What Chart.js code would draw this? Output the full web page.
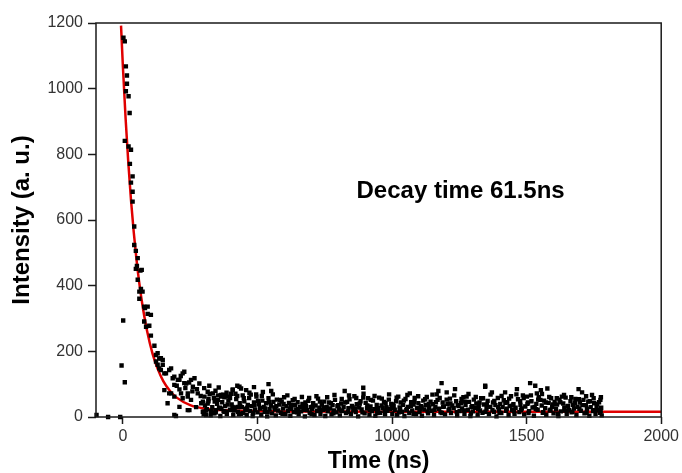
<!DOCTYPE html>
<html>
<head>
<meta charset="utf-8">
<script src="https://cdn.jsdelivr.net/npm/chart.js@4/dist/chart.umd.min.js"></script>
<style>
  html, body { margin: 0; padding: 0; background: #fff; }
</style>
</head>
<body>
<canvas id="decay" width="682" height="473"></canvas>
<script>
// Time-resolved PL decay, counts vs time (ns)
const xTicks = [0, 500, 1000, 1500, 2000];
const yTicks = [0, 200, 400, 600, 800, 1000, 1200];

// points before the pulse / stray low counts
const earlyPoints = [[-98, 6], [-55, 0], [-10, 0], [1, 294], [-5, 157], [7, 106]];

// the fast decay
const decayPoints = [
  [2, 1155], [7, 1144], [11, 1068], [15, 1040], [15, 1015], [11, 992], [21, 977], [25, 926], [7, 841], [21, 824],
  [30, 814], [26, 771], [36, 733], [30, 714], [36, 686], [36, 656], [42, 580], [42, 524], [48, 506], [55, 484],
  [52, 460], [48, 451], [65, 446], [70, 448], [55, 418], [67, 390], [61, 382], [73, 382], [61, 360], [92, 336],
  [79, 336], [82, 332], [92, 314], [104, 311], [79, 291], [98, 278], [86, 275], [104, 248], [117, 217], [129, 194],
  [123, 189], [141, 179], [135, 178], [148, 174], [123, 169], [129, 159], [148, 159], [135, 148], [141, 143], [172, 143],
  [179, 148], [154, 133], [160, 133], [228, 138], [185, 118], [191, 123], [210, 113], [204, 113], [253, 113], [235, 102],
  [228, 103], [222, 133], [191, 98], [284, 102], [321, 95], [154, 82], [210, 84], [179, 72], [172, 72], [216, 72],
  [241, 72], [278, 72], [260, 92], [222, 57], [253, 52], [191, 62], [241, 62], [297, 47], [291, 42], [166, 42],
  [210, 31], [241, 21], [247, 21], [272, 30], [297, 16], [303, 16], [309, 6], [328, 16], [340, 11], [346, 21],
  [353, 52], [365, 62], [365, 67], [334, 72], [390, 62], [408, 84], [433, 92], [377, 16], [402, 21], [427, 31],
  [197, 3], [191, 6],
  [200, 95], [215, 125], [232, 88], [246, 105], [258, 78], [266, 118], [275, 85], [289, 64], [302, 88], [315, 77],
  [318, 55], [344, 80], [356, 90], [372, 68], [385, 74], [398, 58], [418, 71], [445, 66], [470, 74], [495, 69],
  [520, 76]
];

// flat background after the decay
const tailPoints = [
  [300, 8], [305, 35], [312, 24], [318, 48], [326, 5], [332, 30], [338, 58], [345, 14], [350, 40], [357, 27],
  [362, 3], [369, 45], [374, 18], [380, 33], [386, 9], [392, 50], [398, 22], [404, 38], [410, 6], [416, 29],
  [421, 55], [428, 16], [434, 42], [438, 10],
  [442, 30], [447, 12], [451, 48], [455, 25], [460, 6], [464, 37], [469, 58], [473, 18], [478, 33], [482, 3],
  [487, 44], [491, 22], [496, 62], [500, 14], [505, 39], [509, 27], [514, 7], [518, 50], [523, 31], [527, 16],
  [532, 42], [536, 2], [541, 57], [545, 24], [550, 35], [554, 11], [559, 46], [563, 29], [568, 5], [572, 53],
  [577, 20], [581, 38], [586, 13], [590, 47], [595, 26], [599, 60], [604, 9], [608, 33], [613, 19], [617, 43],
  [622, 4], [626, 28], [631, 51], [635, 15], [640, 36], [644, 23], [649, 45], [653, 8], [658, 31], [662, 17],
  [667, 40], [671, 27], [676, 2], [680, 34], [685, 21], [689, 49], [694, 12], [698, 30],
  [703, 24], [707, 42], [712, 6], [716, 35], [721, 19], [725, 56], [730, 28], [734, 10], [739, 38], [743, 22],
  [748, 47], [752, 3], [757, 31], [761, 17], [766, 44], [770, 26], [775, 8], [779, 36], [784, 20], [788, 52],
  [793, 14], [797, 33], [802, 25], [806, 5], [811, 41], [815, 18], [820, 30], [829, 12], [833, 46], [838, 27],
  [842, 54], [847, 9], [851, 34], [856, 21], [860, 63], [865, 15], [869, 39], [874, 2], [878, 29], [883, 48],
  [887, 23], [898, 11], [902, 43], [907, 26], [911, 57], [916, 7], [920, 32], [925, 18], [929, 50], [934, 24],
  [938, 4], [943, 37], [947, 21], [952, 59], [956, 13], [961, 35], [965, 28], [970, 46], [974, 8], [979, 30],
  [983, 19], [988, 53], [992, 25], [997, 40],
  [1001, 10], [1006, 34], [1010, 22], [1015, 48], [1019, 6], [1028, 29], [1032, 44], [1037, 16], [1041, 37], [1046, 3],
  [1050, 55], [1055, 24], [1059, 31], [1064, 12], [1071, 45], [1075, 20], [1080, 38], [1084, 58], [1089, 9], [1093, 27],
  [1098, 42], [1102, 15], [1107, 33], [1111, 4], [1116, 50], [1120, 23], [1125, 36], [1129, 61], [1134, 11], [1138, 28],
  [1143, 47], [1147, 19], [1152, 39], [1156, 6], [1161, 30], [1169, 52], [1175, 25], [1180, 14], [1188, 44], [1193, 32],
  [1197, 8], [1206, 40], [1210, 21], [1215, 56], [1219, 12], [1224, 35], [1229, 27], [1238, 48], [1242, 5], [1247, 33],
  [1251, 18], [1256, 42], [1260, 26], [1265, 60], [1269, 10], [1273, 37], [1282, 22], [1286, 46], [1291, 3], [1295, 31],
  [1300, 17], [1304, 53], [1309, 28], [1313, 41], [1318, 7], [1322, 34], [1327, 20], [1331, 57], [1336, 13], [1341, 38],
  [1351, 25], [1355, 49], [1360, 9], [1365, 31], [1375, 44], [1379, 16], [1384, 36], [1388, 2], [1393, 58], [1397, 23],
  [1402, 40], [1406, 12], [1411, 30], [1415, 51], [1424, 19], [1428, 45], [1433, 6], [1437, 33], [1442, 63], [1446, 21],
  [1451, 39], [1455, 10], [1459, 28], [1468, 54], [1473, 15], [1477, 37], [1482, 26], [1486, 66], [1491, 8], [1495, 32],
  [1505, 44], [1509, 18], [1518, 48], [1522, 29], [1527, 4], [1536, 40], [1541, 22], [1545, 60], [1556, 35], [1560, 13],
  [1565, 50], [1569, 27], [1573, 7], [1582, 43], [1586, 20], [1591, 57], [1595, 31], [1600, 11], [1604, 46], [1609, 24],
  [1613, 38], [1618, 3], [1622, 53], [1627, 17], [1636, 41], [1640, 28], [1645, 59], [1649, 9], [1654, 34], [1658, 21],
  [1663, 48], [1667, 14], [1672, 37], [1676, 26], [1681, 55], [1685, 6], [1689, 31], [1698, 44], [1702, 19], [1711, 52],
  [1715, 11], [1720, 36], [1724, 25], [1729, 47], [1733, 4], [1738, 30], [1747, 18], [1751, 42], [1756, 9], [1760, 33],
  [1765, 22], [1769, 45], [1773, 13], [1777, 28], [1779, 5]
];

// upper half of the background band
const tailUpper = [
  [303, 62], [315, 41], [322, 70], [329, 18], [341, 47], [353, 66], [366, 25], [377, 60], [389, 38], [401, 71],
  [413, 20], [425, 64], [436, 33], [449, 57], [462, 28], [475, 68], [489, 35], [502, 49], [516, 64], [529, 26],
  [543, 45], [557, 69], [570, 33], [584, 52], [597, 40], [611, 66], [624, 37], [638, 55], [651, 24], [665, 61],
  [678, 44], [692, 58], [705, 32], [719, 63], [732, 47], [746, 29], [759, 60], [773, 42], [786, 67], [800, 36],
  [813, 55], [826, 44], [840, 66], [853, 30], [867, 58], [880, 41], [894, 71], [908, 35], [921, 52], [935, 64],
  [948, 27], [962, 56], [976, 43], [989, 69], [1003, 38], [1017, 59], [1030, 24], [1044, 50], [1057, 67], [1070, 34],
  [1083, 46], [1097, 63], [1110, 29], [1123, 54], [1136, 40], [1150, 68], [1163, 45], [1177, 58], [1190, 31], [1203, 53],
  [1217, 41], [1231, 66], [1244, 36], [1258, 55], [1271, 47], [1284, 70], [1298, 33], [1311, 61], [1325, 44], [1338, 57],
  [1352, 37], [1366, 68], [1380, 49], [1394, 30], [1407, 64], [1421, 43], [1435, 56], [1448, 35], [1462, 69], [1476, 48],
  [1489, 58], [1503, 40], [1516, 66], [1530, 31], [1543, 53], [1557, 70], [1571, 44], [1584, 61], [1598, 38], [1612, 57],
  [1625, 45], [1639, 67], [1652, 33], [1666, 60], [1680, 42], [1694, 54], [1707, 36], [1721, 63], [1735, 48], [1749, 57],
  [1762, 39], [1776, 60]
];

// lower half of the background band
const tailLower = [
  [310, 20], [336, 12], [361, 28], [384, 16], [407, 31], [431, 8], [457, 21], [484, 12], [511, 26], [538, 15],
  [565, 23], [593, 10], [620, 25], [647, 14], [674, 22], [701, 9], [728, 18], [755, 24], [782, 11], [809, 20],
  [836, 16], [863, 26], [890, 14], [917, 22], [945, 12], [972, 19], [999, 27], [1026, 14], [1053, 21], [1080, 10],
  [1105, 24], [1132, 17], [1158, 22], [1185, 12], [1213, 26], [1240, 15], [1267, 20], [1293, 11], [1320, 24], [1347, 16],
  [1373, 21], [1399, 13], [1426, 25], [1453, 17], [1479, 22], [1507, 12], [1534, 24], [1562, 15], [1589, 22], [1616, 10],
  [1643, 20], [1670, 16], [1696, 25], [1723, 13], [1750, 21], [1775, 17]
];

// the few higher counts sticking out of the background
const spikePoints = [
  [425, 95], [458, 82], [487, 91], [541, 100], [551, 79], [824, 79], [439, 87], [408, 82], [893, 89], [1184, 103],
  [1172, 79], [1203, 75], [1234, 85], [1166, 69], [1066, 72], [1277, 62], [1346, 92], [1023, 62], [893, 59], [1513, 103],
  [1532, 95], [1346, 95], [1464, 85], [1420, 75], [1371, 75], [1577, 87], [1553, 82], [1538, 72], [1501, 62], [1693, 85],
  [1706, 75], [1631, 62], [1551, 52], [1743, 67], [1774, 52]
];

// red fit curve
const fitTime = [-7, 0, 10, 20, 30, 40, 50, 60, 75, 90, 110, 130, 150, 175, 200, 250, 300, 400, 600, 1000, 2000];
const fitIntensity = [1192, 1066, 909, 775, 661, 565, 483, 413, 328, 261, 193, 145, 109, 79, 59, 36, 26, 20, 17, 16, 16];

const noteText = 'Decay time 61.5ns';
const noteAt = [868, 688];

const FONT = '"Liberation Sans", Arial, sans-serif';

const toXY = ([x, y]) => ({ x, y });
const measured = [...earlyPoints, ...decayPoints, ...tailPoints, ...tailUpper, ...tailLower, ...spikePoints].map(toXY);
const fit = fitTime.map((t, i) => ({ x: t, y: fitIntensity[i] }));

const framePlugin = {
  id: 'frame',
  afterDatasetsDraw(chart) {
    const { ctx, chartArea: a, scales: { x, y } } = chart;
    ctx.save();
    ctx.strokeStyle = '#1a1a1a';
    ctx.lineWidth = 1.5;
    ctx.strokeRect(a.left, a.top, a.right - a.left, a.bottom - a.top);

    ctx.font = 'bold 24px ' + FONT;
    ctx.fillStyle = '#000';
    ctx.textBaseline = 'middle';
    ctx.fillText(noteText, x.getPixelForValue(noteAt[0]), y.getPixelForValue(noteAt[1]));
    ctx.restore();
  }
};

new Chart(document.getElementById('decay'), {
  type: 'scatter',
  data: {
    datasets: [
      {
        label: 'Data',
        data: measured,
        pointStyle: 'rect',
        pointRadius: 3.1,
        pointBorderWidth: 0,
        backgroundColor: '#000',
        borderColor: '#000',
        clip: 4,
        order: 0,
      },
      {
        label: 'Fit',
        data: fit,
        showLine: true,
        pointRadius: 0,
        borderColor: '#e00000',
        borderWidth: 2.5,
        cubicInterpolationMode: 'monotone',
        order: 1,
      },
    ],
  },
  options: {
    responsive: false,
    animation: false,
    layout: { padding: { top: 23, right: 20, bottom: 0, left: 0 } },
    plugins: {
      legend: { display: false },
      tooltip: { enabled: false },
    },
    scales: {
      x: {
        type: 'linear',
        min: -100,
        max: 2000,
        afterBuildTicks: s => { s.ticks = xTicks.map(v => ({ value: v })); },
        afterFit: s => { s.height = 56; },
        border: { display: false },
        grid: { drawOnChartArea: false, tickLength: 7, tickColor: '#1a1a1a', tickWidth: 1.5 },
        ticks: { color: '#333', padding: 3, font: { family: FONT, size: 16 }, callback: v => String(v) },
        title: {
          display: true,
          text: 'Time (ns)',
          color: '#000',
          padding: { top: 0, bottom: 0 },
          font: { family: FONT, size: 23, weight: 'bold', lineHeight: 1 },
        },
      },
      y: {
        min: 0,
        max: 1200,
        afterBuildTicks: s => { s.ticks = yTicks.map(v => ({ value: v })); },
        afterFit: s => { s.width = 96; },
        border: { display: false },
        grid: { drawOnChartArea: false, tickLength: 8, tickColor: '#1a1a1a', tickWidth: 1.5 },
        ticks: { color: '#333', padding: 5, font: { family: FONT, size: 16 }, callback: v => String(v) },
        title: {
          display: true,
          text: 'Intensity (a. u.)',
          color: '#000',
          padding: { top: 10, bottom: 0 },
          font: { family: FONT, size: 24, weight: 'bold', lineHeight: 1 },
        },
      },
    },
  },
  plugins: [framePlugin],
});
</script>
</body>
</html>
